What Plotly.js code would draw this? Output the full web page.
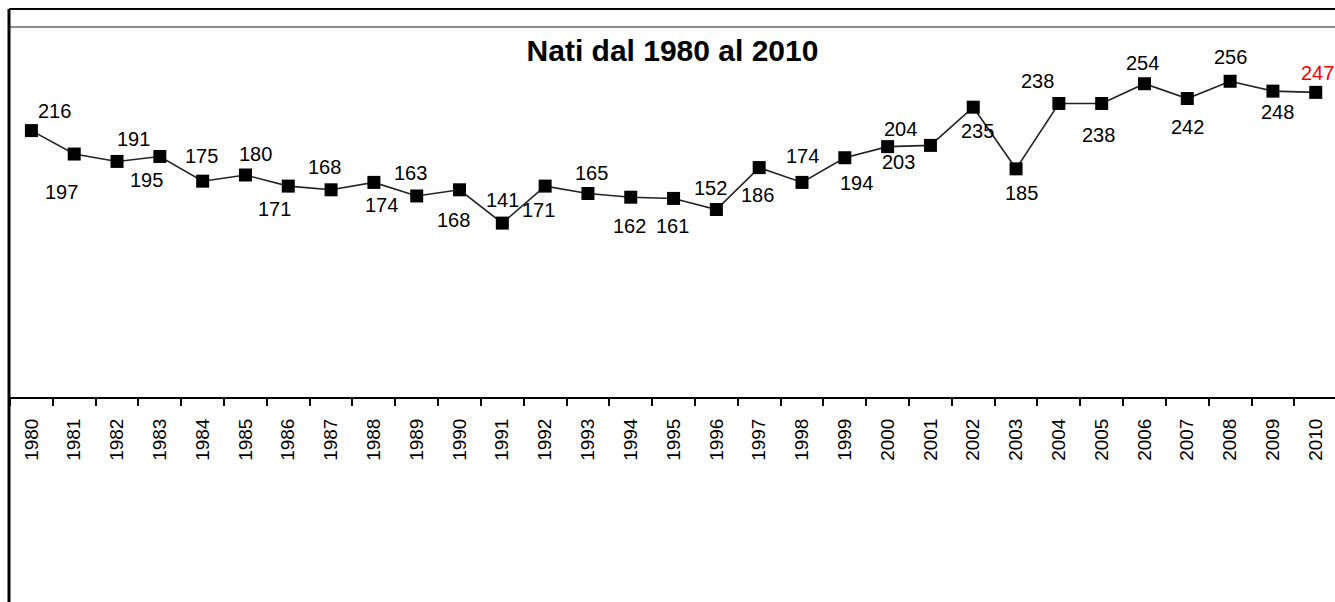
<!DOCTYPE html>
<html>
<head>
<meta charset="utf-8">
<script src="https://cdn.plot.ly/plotly-3.0.1.min.js"></script>
<style>
  html, body { margin: 0; padding: 0; background: #fff; }
  #chart { width: 1335px; height: 602px; }
</style>
</head>
<body>
<div id="chart"></div>
<script>
// ---- data ----
const years = ['1980','1981','1982','1983','1984','1985','1986','1987','1988','1989','1990',
               '1991','1992','1993','1994','1995','1996','1997','1998','1999','2000',
               '2001','2002','2003','2004','2005','2006','2007','2008','2009','2010'];
const births = [216, 197, 191, 195, 175, 180, 171, 168, 174, 163, 168,
                141, 171, 165, 162, 161, 152, 186, 174, 194, 203,
                204, 235, 185, 238, 238, 254, 242, 256, 248, 247];
const chartTitle = 'Nati dal 1980 al 2010';

// ---- label placement (style, in pixels relative to each point) ----
const labelDx = [23, -13, 16, -13, -1, 10, -14, -7, 8, -6, -6,
                 0, -7, 4, -1, -1, -6, -2, 0, 12, 11,
                 -30, 4, 5, -21, -3, -2, 0, 0, 5, 2];
const labelDy = [-20, 38, -22, 23, -25, -21, 23, -23, 23, -23, 30,
                 -23, 24, -21, 29, 28, -22, 27, -26, 25, 15,
                 -16, 24, 24, -22, 32, -21, 28, -24, 21, -19];

const FONT = 'Liberation Sans, Arial, sans-serif';

const trace = {
  type: 'scatter',
  mode: 'lines+markers',
  x: years,
  y: births,
  line: { color: '#222', width: 1.6 },
  marker: { symbol: 'square', size: 13, color: '#000' },
  hoverinfo: 'x+y'
};

const annotations = years.map((yr, i) => ({
  x: i, y: births[i], xref: 'x', yref: 'y',
  text: String(births[i]),
  showarrow: false,
  xanchor: 'center', yanchor: 'middle',
  xshift: labelDx[i], yshift: -labelDy[i],
  font: { family: FONT, size: 20, color: i === years.length - 1 ? '#ff0000' : '#000' }
}));

const plotH = 397 - 27;
const pyTop = (397 - 9) / plotH;
const pyBottom = (397 - 602) / plotH;
const pxLeft = (9 - 10) / 1325;

const layout = {
  width: 1335, height: 602,
  margin: { l: 10, r: 0, t: 27, b: 205, pad: 0 },
  paper_bgcolor: '#fff', plot_bgcolor: '#fff',
  showlegend: false,
  title: {
    text: '<b>' + chartTitle + '</b>',
    font: { family: FONT, size: 30, color: '#000' },
    x: 0.5, xref: 'paper', xanchor: 'center',
    y: 1 - 50 / 602, yref: 'container', yanchor: 'middle'
  },
  xaxis: {
    type: 'category',
    range: [-0.5, 30.45],
    showgrid: false, zeroline: false,
    showline: true, linecolor: '#000', linewidth: 2,
    ticks: 'outside', ticklen: 7, tickwidth: 2, tickcolor: '#000',
    tickson: 'boundaries',
    tickangle: -90,
    ticklabelstandoff: 12,
    tickfont: { family: FONT, size: 19, color: '#000' },
    fixedrange: true
  },
  yaxis: {
    range: [0, 300],
    showticklabels: false, ticks: '', showline: false,
    showgrid: false, zeroline: false,
    fixedrange: true
  },
  annotations: annotations,
  shapes: [
    { type: 'line', xref: 'paper', yref: 'paper', x0: pxLeft, x1: 1.01, y0: pyTop, y1: pyTop,
      line: { color: '#000', width: 2 } },
    { type: 'line', xref: 'paper', yref: 'paper', x0: pxLeft, x1: 1.01, y0: 1, y1: 1,
      line: { color: '#8c8c8c', width: 2 } },
    { type: 'line', xref: 'paper', yref: 'paper', x0: pxLeft, x1: pxLeft, y0: pyTop, y1: pyBottom,
      line: { color: '#000', width: 3 } }
  ]
};

Plotly.newPlot('chart', [trace], layout, { displayModeBar: false, staticPlot: true });
</script>
</body>
</html>
